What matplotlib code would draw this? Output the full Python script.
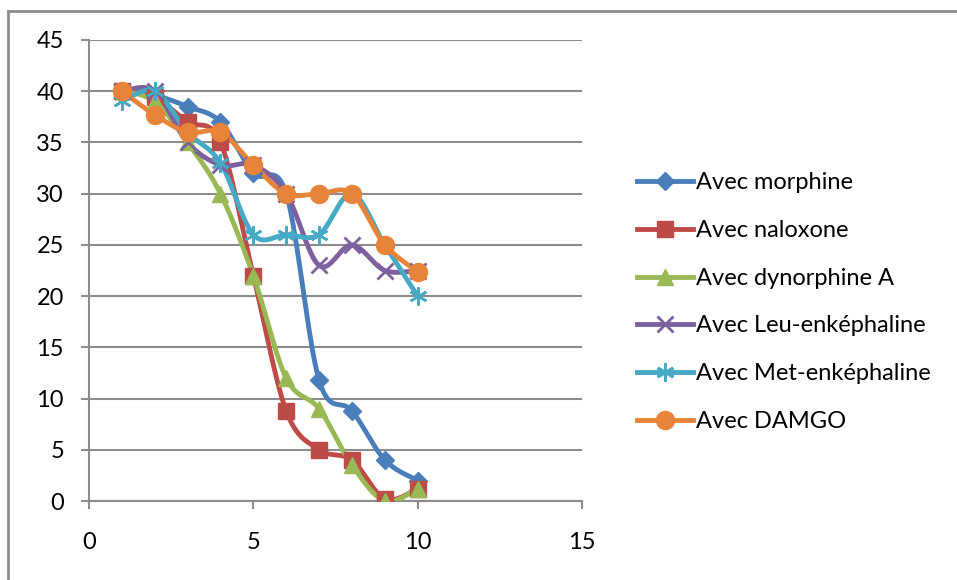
import matplotlib
matplotlib.use("Agg")
import matplotlib.pyplot as plt
import numpy as np
from matplotlib.lines import Line2D

plt.rcParams['font.family'] = ['Lato', 'DejaVu Sans']

x = [1, 2, 3, 4, 5, 6, 7, 8, 9, 10]
morphine = [40, 39.6, 38.5, 37, 32, 30, 11.8, 8.8, 4, 2]
naloxone = [40, 39.4, 37, 35, 22, 8.8, 5, 4, 0.2, 1.2]
dynorphine = [40, 39, 35, 30, 22, 12, 9, 3.5, 0, 1.2]
leu_enk = [40, 40, 35, 32.8, 32.8, 30, 23, 25, 22.5, 22.5]
met_enk = [39, 40, 36, 33, 26, 26, 26, 30, 25, 20]
damgo = [40, 37.7, 36, 36, 32.8, 30, 30, 30, 25, 22.4]

labels = ["Avec morphine", "Avec naloxone", "Avec dynorphine A",
          "Avec Leu-enképhaline", "Avec Met-enképhaline", "Avec DAMGO"]
series = [morphine, naloxone, dynorphine, leu_enk, met_enk, damgo]
colors = ["#4A7EBB", "#BE4B48", "#98B954", "#7D60A0", "#46AAC5", "#E8843A"]
markers = ["D", "s", "^", "x", "*", "o"]
msizes = [9, 12, 11, 11, 13, 13]


def smooth(xs, ys, n=20):
    # Catmull-Rom style curve through the points, like Excel smoothed lines
    xs = np.asarray(xs, float)
    ys = np.asarray(ys, float)
    px = np.concatenate([[xs[0]], xs, [xs[-1]]])
    py = np.concatenate([[ys[0]], ys, [ys[-1]]])
    out_x, out_y = [], []
    t = np.linspace(0, 1, n)
    for i in range(1, len(px) - 2):
        p0, p1, p2, p3 = (np.array([px[j], py[j]]) for j in range(i - 1, i + 3))
        c1 = p1 + (p2 - p0) / 6
        c2 = p2 - (p3 - p1) / 6
        pts = ((1 - t) ** 3)[:, None] * p1 + (3 * (1 - t) ** 2 * t)[:, None] * c1 \
            + (3 * (1 - t) * t ** 2)[:, None] * c2 + (t ** 3)[:, None] * p2
        out_x.extend(pts[:, 0])
        out_y.extend(pts[:, 1])
    return out_x, out_y


fig = plt.figure(figsize=(9.57, 5.8), dpi=100)
ax = fig.add_axes([89 / 957, 1 - 501 / 580, (582 - 89) / 957, (501 - 40) / 580])

handles = []
for ys, lab, c, m, ms in zip(series, labels, colors, markers, msizes):
    sx, sy = smooth(x, ys)
    ax.plot(sx, sy, color=c, lw=3.5, solid_capstyle='round', zorder=3)
    mew = 2 if m in ("x", "*") else 1
    if m == "*":
        ax.plot(x, ys, linestyle='none', marker=(6, 2, 0), markersize=ms,
                color=c, mew=1.8, zorder=4)
        hm = (6, 2, 0)
    else:
        ax.plot(x, ys, linestyle='none', marker=m, markersize=ms, color=c,
                mec=c, mew=mew, zorder=4)
        hm = m
    handles.append(Line2D([], [], color=c, lw=3.5, marker=hm, markersize=ms,
                          mec=c, mew=mew, label=lab))

ax.set_xlim(0, 15)
ax.set_ylim(0, 45)
ax.set_xticks([0, 5, 10, 15])
ax.set_yticks(range(0, 46, 5))
ax.grid(axis='y', color='#8c8c8c', lw=1.5)
ax.set_axisbelow(True)
for s in ['top', 'right']:
    ax.spines[s].set_visible(False)
for s in ['left', 'bottom']:
    ax.spines[s].set_color('#8c8c8c')
    ax.spines[s].set_linewidth(1.5)
ax.tick_params(colors='#8c8c8c', labelcolor='black', labelsize=17, width=1.5, length=6)
ax.tick_params(axis='x', pad=16)
ax.tick_params(axis='y', pad=12)

fig.legend(handles=handles, loc='upper left', bbox_to_anchor=(628 / 957, 1 - 163 / 580),
           frameon=False, fontsize=17, handlelength=2.35, labelspacing=1.13,
           handletextpad=0.12, borderaxespad=0)

fig.add_artist(Line2D([8 / 957, 8 / 957], [0, 1 - 11 / 580], color='#8c8c8c', lw=2))
fig.add_artist(Line2D([8 / 957, 1], [1 - 11 / 580, 1 - 11 / 580], color='#8c8c8c', lw=2))

fig.savefig("out.png", dpi=100)
